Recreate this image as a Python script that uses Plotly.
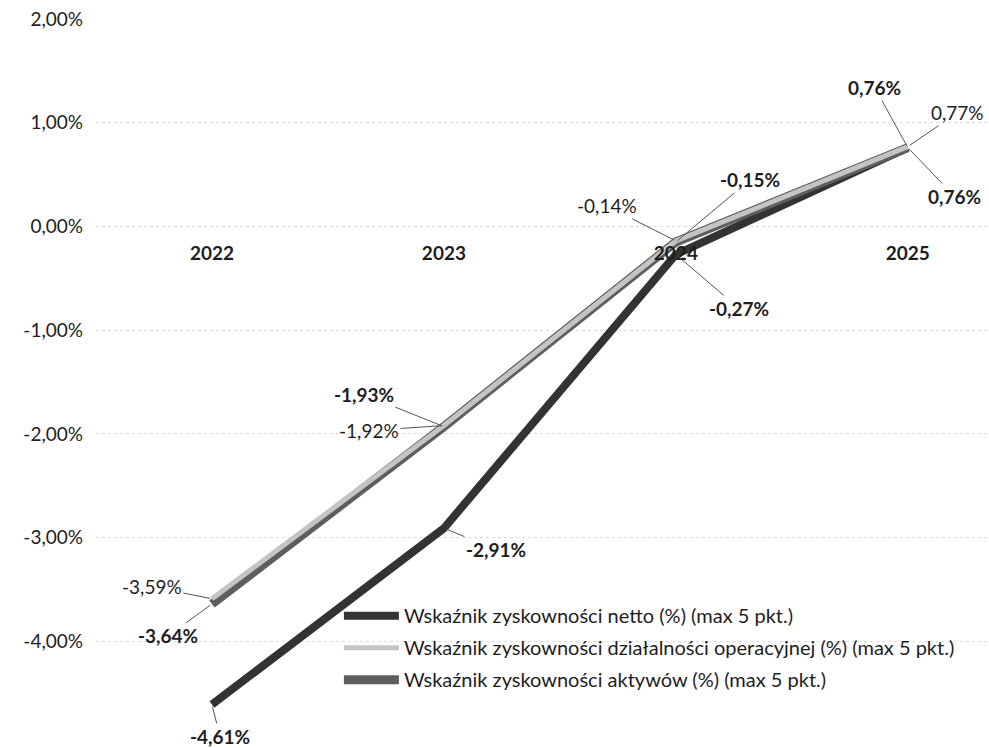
import plotly.graph_objects as go

years = ["2022", "2023", "2024", "2025"]
netto = [-4.61, -2.91, -0.27, 0.76]
operacyjna = [-3.59, -1.92, -0.14, 0.77]
aktywa = [-3.64, -1.93, -0.15, 0.76]
y_ticks = [2, 1, 0, -1, -2, -3, -4, -5]

names = [
    "Wskaźnik zyskowności netto (%) (max 5 pkt.)",
    "Wskaźnik zyskowności działalności operacyjnej (%) (max 5 pkt.)",
    "Wskaźnik zyskowności aktywów (%) (max 5 pkt.)",
]

# label offsets (pixels from the point to the label centre) for each series
netto_off = [(8, 32), (52, 21), (63, 54), (47, 49)]
oper_off = [(-60, -12), (-75, 5), (-69, -35), (50, -34)]
akt_off = [(-44, 32), (-80, -32), (74, -62), (-33, -60)]

FONT = "Lato"
TXT = "#1e1e1e"
x = list(range(len(years)))


def fmt(v):
    # Polish notation: decimal comma, plain hyphen for negatives
    return f"{v:.2f}".replace(".", ",") + "%"


fig = go.Figure()

series = [
    (names[0], netto, "#333333", 8, 1),
    (names[2], aktywa, "#5e5e5e", 9, 3),
    (names[1], operacyjna, "#c4c4c4", 5, 2),
]
for name, vals, color, width, rank in series:
    fig.add_trace(go.Scatter(
        x=x, y=vals, mode="lines", name=name, legendrank=rank,
        legendgroup=name,
        line=dict(color=color, width=width),
    ))

for vals, offs, bold in [(netto, netto_off, True),
                         (operacyjna, oper_off, False),
                         (aktywa, akt_off, True)]:
    for i, v in enumerate(vals):
        ax, ay = offs[i]
        txt = fmt(v)
        if bold:
            txt = f"<b>{txt}</b>"
        fig.add_annotation(
            x=x[i], y=v, text=txt, showarrow=True, arrowhead=0,
            arrowwidth=1, arrowcolor="#555555", ax=ax, ay=ay,
            standoff=2, startstandoff=0,
            font=dict(family=FONT, size=19, color=TXT),
        )

fig.update_layout(
    width=989, height=748,
    margin=dict(l=96, r=0, t=19, b=3),
    paper_bgcolor="white", plot_bgcolor="white",
    font=dict(family=FONT, size=19, color=TXT),
    showlegend=True,
    legend=dict(
        x=0.272, y=0.205, xanchor="left", yanchor="top",
        bgcolor="rgba(0,0,0,0)", tracegroupgap=3,
        font=dict(family=FONT, size=20, color=TXT),
        itemwidth=55,
    ),
)
fig.update_xaxes(
    range=[-0.5, 3.35], tickmode="array", tickvals=x, ticktext=years,
    tickfont=dict(family=FONT, size=19, color=TXT, weight="bold"),
    anchor="free", position=5 / 7, showline=False, ticks="",
    ticklabelstandoff=14,
    showgrid=False, zeroline=False,
)
fig.update_yaxes(
    range=[-5, 2], tickmode="array", tickvals=y_ticks,
    ticktext=[fmt(v) for v in y_ticks],
    tickfont=dict(family=FONT, size=19, color=TXT),
    showgrid=True, gridcolor="#dcdcdc", griddash="dot", gridwidth=1,
    zeroline=False, showline=False, ticks="", ticklabelstandoff=12,
)

fig.write_html("out.html")
